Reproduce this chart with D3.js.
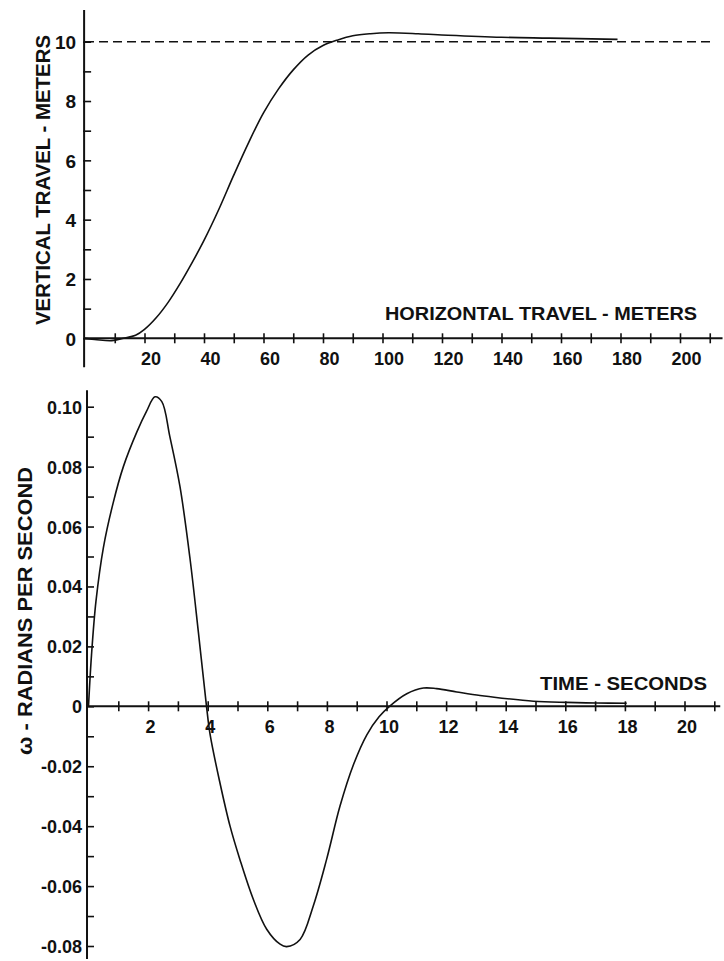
<!DOCTYPE html>
<html>
<head>
<meta charset="utf-8">
<script src="https://cdn.jsdelivr.net/npm/d3@7"></script>
<style>
  html, body { margin: 0; padding: 0; background: #fff; }
  svg { display: block; }
  text { font-family: "Liberation Sans", Arial, sans-serif; font-weight: bold; fill: #111; }
</style>
</head>
<body>
<svg id="chart" width="724" height="961"></svg>
<script>
// Trajectory: vertical vs horizontal travel (meters)
const travelX = [0, 4, 9, 13, 17, 20, 24, 28, 32, 36, 40, 45, 50, 55, 60, 65, 70, 75, 80, 85, 90, 96, 102, 112, 122, 140, 156, 179];
const travelY = [0, -0.05, -0.08, 0, 0.1, 0.3, 0.7, 1.22, 1.85, 2.55, 3.3, 4.35, 5.5, 6.6, 7.6, 8.4, 9.05, 9.55, 9.87, 10.06, 10.2, 10.27, 10.3, 10.27, 10.22, 10.15, 10.12, 10.08];
const targetHeight = 10;

// Pitch rate omega (rad/s) vs time (s)
const timeS = [0, 0.1, 0.25, 0.5, 0.83, 1.17, 1.62, 1.95, 2.23, 2.46, 2.73, 3.07, 3.41, 3.69, 3.96, 4.08, 4.41, 4.75, 5.08, 5.53, 5.98, 6.43, 6.65, 7.1, 7.54, 7.99, 8.44, 8.89, 9.34, 9.75, 10.1, 10.68, 11.24, 11.68, 12.36, 13.14, 13.81, 14.93, 16.05, 17.05, 18.06];
const omega = [0, 0.017, 0.035, 0.053, 0.068, 0.08, 0.0915, 0.0985, 0.1033, 0.1017, 0.09, 0.0733, 0.049, 0.0245, 0, -0.0094, -0.0255, -0.04, -0.0511, -0.0644, -0.0744, -0.0794, -0.0802, -0.0778, -0.0667, -0.0511, -0.0333, -0.0195, -0.0095, -0.0035, 0, 0.0042, 0.0061, 0.0059, 0.0048, 0.0036, 0.0028, 0.0017, 0.0013, 0.0011, 0.001];

// Tick values and labels
const travelXTicks = d3.range(10, 211, 10);
const travelXLabels = d3.range(20, 201, 20);
const travelYTicks = d3.range(0, 11, 1);
const travelYLabels = [0, 2, 4, 6, 8, 10];
const timeTicks = d3.range(1, 22, 1);
const timeLabels = d3.range(2, 21, 2);
const omegaTicks = d3.range(-8, 11, 1).map(v => v / 100);
const omegaLabels = [-0.08, -0.06, -0.04, -0.02, 0, 0.02, 0.04, 0.06, 0.08, 0.10];

const svg = d3.select("#chart");

function fmtOmega(d) {
  if (Math.abs(d) < 1e-9) return "0";
  return (d < 0 ? "-" : "") + Math.abs(d).toFixed(2);
}

// ---------- upper panel ----------
const x1 = d3.scaleLinear().domain([0, 210]).range([85, 709.75]);
const y1 = d3.scaleLinear().domain([0, 10]).range([338.3, 41.7]);
const upper = svg.append("g");

// axis lines
upper.append("line")
  .attr("x1", x1(-0.3)).attr("x2", x1(214.3))
  .attr("y1", y1(0)).attr("y2", y1(0))
  .attr("stroke", "#111").attr("stroke-width", 2);
upper.append("line")
  .attr("x1", x1(-0.3)).attr("x2", x1(-0.3))
  .attr("y1", y1(11.07)).attr("y2", y1(-0.98))
  .attr("stroke", "#111").attr("stroke-width", 2);

// x ticks (crosses) and labels
const gx1 = upper.append("g").attr("transform", `translate(0,${y1(0)})`)
  .call(d3.axisBottom(x1).tickValues(travelXTicks).tickSize(5).tickFormat(""));
gx1.select(".domain").remove();
gx1.selectAll(".tick line").attr("y1", -5).attr("stroke", "#111").attr("stroke-width", 1.6);
gx1.selectAll(".tick")
  .filter(d => travelXLabels.includes(d))
  .append("text")
  .attr("x", 6).attr("y", 27)
  .attr("text-anchor", "middle")
  .style("font-size", "18px")
  .text(d => d);

// y ticks and labels
const gy1 = upper.append("g").attr("transform", `translate(${x1(-0.3)},0)`)
  .call(d3.axisLeft(y1).tickValues(travelYTicks).tickSize(-7).tickPadding(8)
    .tickFormat(d => travelYLabels.includes(d) ? d : ""));
gy1.select(".domain").remove();
gy1.selectAll(".tick line").attr("x1", -1).attr("stroke", "#111").attr("stroke-width", 1.6);
gy1.selectAll(".tick text").style("font-size", "19px").attr("dy", "0.36em")
  .attr("fill", "#111").attr("font-family", null);

// target height (dashed)
upper.append("line")
  .attr("x1", x1(0)).attr("x2", x1(211))
  .attr("y1", y1(targetHeight)).attr("y2", y1(targetHeight))
  .attr("stroke", "#111").attr("stroke-width", 1.5)
  .attr("stroke-dasharray", "9,5");

// trajectory
const travelLine = d3.line()
  .x((d, i) => x1(travelX[i]))
  .y(d => y1(d))
  .curve(d3.curveCatmullRom.alpha(0.5));
upper.append("path")
  .datum(travelY)
  .attr("d", travelLine)
  .attr("fill", "none").attr("stroke", "#111").attr("stroke-width", 1.6);

// titles
upper.append("text")
  .attr("x", 385).attr("y", 320)
  .attr("textLength", 312).attr("lengthAdjust", "spacingAndGlyphs")
  .style("font-size", "19px")
  .text("HORIZONTAL TRAVEL - METERS");
upper.append("text")
  .attr("transform", `translate(50,180) rotate(-90)`)
  .attr("text-anchor", "middle")
  .attr("textLength", 290).attr("lengthAdjust", "spacingAndGlyphs")
  .style("font-size", "20px")
  .text("VERTICAL TRAVEL - METERS");

// ---------- lower panel ----------
const x2 = d3.scaleLinear().domain([0, 21]).range([88.5, 714.3]);
const y2 = d3.scaleLinear().domain([-0.08, 0.10]).range([946, 406.7]);
const lower = svg.append("g");

lower.append("line")
  .attr("x1", x2(-0.05)).attr("x2", x2(21.2))
  .attr("y1", y2(0)).attr("y2", y2(0))
  .attr("stroke", "#111").attr("stroke-width", 2);
lower.append("line")
  .attr("x1", x2(-0.05)).attr("x2", x2(-0.05))
  .attr("y1", y2(0.1055)).attr("y2", y2(-0.0843))
  .attr("stroke", "#111").attr("stroke-width", 2);

const gx2 = lower.append("g").attr("transform", `translate(0,${y2(0)})`)
  .call(d3.axisBottom(x2).tickValues(timeTicks).tickSize(5).tickFormat(""));
gx2.select(".domain").remove();
gx2.selectAll(".tick line").attr("y1", -5).attr("stroke", "#111").attr("stroke-width", 1.6);
gx2.selectAll(".tick")
  .filter(d => timeLabels.includes(d))
  .append("text")
  .attr("x", 2).attr("y", 27)
  .attr("text-anchor", "middle")
  .style("font-size", "18px")
  .text(d => d);

const gy2 = lower.append("g").attr("transform", `translate(${x2(-0.05)},0)`)
  .call(d3.axisLeft(y2).tickValues(omegaTicks).tickSize(-7).tickPadding(5)
    .tickFormat(d => omegaLabels.some(v => Math.abs(v - d) < 1e-9) ? fmtOmega(d) : ""));
gy2.select(".domain").remove();
gy2.selectAll(".tick line").attr("x1", -1).attr("stroke", "#111").attr("stroke-width", 1.6);
gy2.selectAll(".tick text").style("font-size", "18px").attr("dy", "0.36em")
  .attr("fill", "#111").attr("font-family", null);

const omegaLine = d3.line()
  .x((d, i) => x2(timeS[i]))
  .y(d => y2(d))
  .curve(d3.curveCatmullRom.alpha(0.5));
lower.append("path")
  .datum(omega)
  .attr("d", omegaLine)
  .attr("fill", "none").attr("stroke", "#111").attr("stroke-width", 1.6);

lower.append("text")
  .attr("x", 540).attr("y", 690)
  .attr("textLength", 167).attr("lengthAdjust", "spacingAndGlyphs")
  .style("font-size", "18px")
  .text("TIME - SECONDS");
lower.append("text")
  .attr("transform", `translate(32,611) rotate(-90)`)
  .attr("text-anchor", "middle")
  .attr("textLength", 288).attr("lengthAdjust", "spacingAndGlyphs")
  .style("font-size", "20px")
  .text("ω - RADIANS PER SECOND");
</script>
</body>
</html>
